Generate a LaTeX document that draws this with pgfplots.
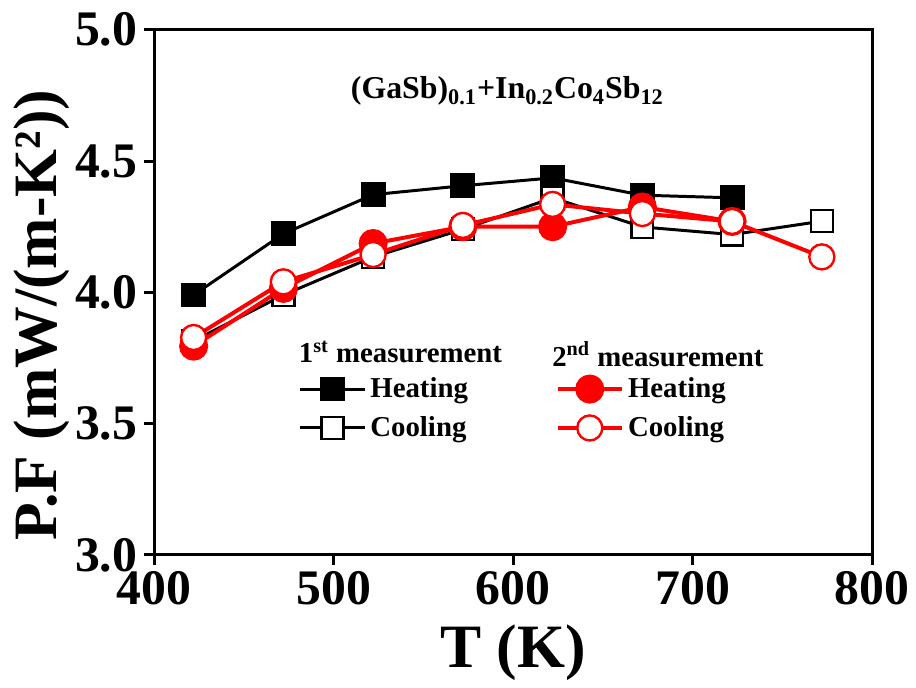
\documentclass[border=0pt]{standalone}
\usepackage{pgfplots}
\pgfplotsset{compat=1.18}
\usepackage{fontspec}
\setmainfont{Liberation Serif}
\definecolor{pfred}{RGB}{255,0,0}
\begin{document}
\begin{tikzpicture}
\begin{axis}[
  scale only axis,
  width=361pt, height=264pt,
  xmin=400, xmax=800, ymin=3.0, ymax=5.0,
  xtick={400,500,600,700,800},
  ytick={3.0,3.5,4.0,4.5,5.0},
  minor tick num=0,
  axis line style={line width=1.5pt},
  every tick/.style={black, line width=1.5pt},
  major tick length=5pt,
  tick align=outside,
  xtick pos=bottom, ytick pos=left,
  /pgf/number format/assume math mode=true,
  tick label style={font=\fontsize{25}{25}\selectfont\bfseries},
  yticklabel style={/pgf/number format/.cd, fixed, fixed zerofill, precision=1},
  xticklabel style={/pgf/number format/.cd, set thousands separator={}},
  xlabel={T (K)},
  ylabel={P.F (mW/(m-K²))},
  label style={font=\fontsize{31}{31}\selectfont\bfseries},
  xlabel style={yshift=-3pt},
  ylabel style={at={(ticklabel cs:0.456)}, yshift=-4pt},
  clip=false,
  legend columns=2,
  legend cell align=left,
  legend style={draw=none, fill=none, inner sep=0pt,
    font=\fontsize{14.5}{14.5}\selectfont\bfseries,
    at={(rel axis cs:0.201,0.346)}, anchor=north west,
    row sep=4pt,
    /tikz/every even column/.append style={column sep=42pt}},
  legend image code/.code={\draw[mark repeat=2,mark phase=2,#1] plot coordinates {(0cm,0cm) (0.57cm,0cm) (1.14cm,0cm)};},
]
% 1st measurement heating
\addplot[forget plot, black, line width=1.5pt, mark=square*, mark size=5.5pt, mark options={solid, fill=black}]
 coordinates {(422,3.99) (472,4.223) (522,4.372) (572,4.406) (622,4.436) (672,4.37) (722,4.36)};
% 1st measurement cooling
\addplot[forget plot, black, line width=1.5pt, mark=square*, mark size=5.5pt, mark options={solid, fill=white, line width=1.2pt}]
 coordinates {(772,4.271) (722,4.22) (672,4.249) (622,4.36) (572,4.24) (522,4.135) (472,3.99) (422,3.815)};
% 2nd measurement heating
\addplot[forget plot, pfred, line width=2pt, mark=*, mark size=6.3pt, mark options={solid, fill=pfred}]
 coordinates {(422,3.795) (472,4.015) (522,4.186) (572,4.25) (622,4.25) (672,4.325) (722,4.27)};
% 2nd measurement cooling
\addplot[forget plot, pfred, line width=2pt, mark=*, mark size=6.3pt, mark options={solid, fill=white, line width=1.2pt}]
 coordinates {(772,4.135) (722,4.27) (672,4.30) (622,4.335) (572,4.255) (522,4.144) (472,4.04) (422,3.828)};

\addlegendimage{black, line width=1.5pt, mark=square*, mark size=5.5pt, mark options={solid, fill=black}}
\addlegendentry{Heating}
\addlegendimage{pfred, line width=2pt, mark=*, mark size=6.3pt, mark options={solid, fill=pfred}}
\addlegendentry{Heating}
\addlegendimage{black, line width=1.5pt, mark=square*, mark size=5.5pt, mark options={solid, fill=white, line width=1.2pt}}
\addlegendentry{Cooling}
\addlegendimage{pfred, line width=2pt, mark=*, mark size=6.3pt, mark options={solid, fill=white, line width=1.2pt}}
\addlegendentry{Cooling}

\node[font=\fontsize{16}{16}\selectfont\bfseries] at (rel axis cs:0.492,0.883)
  {(GaSb)\textsubscript{0.1}+In\textsubscript{0.2}Co\textsubscript{4}Sb\textsubscript{12}};
\node[font=\fontsize{14.5}{14.5}\selectfont\bfseries, anchor=west, inner sep=0pt] at (rel axis cs:0.201,0.386)
  {1\textsuperscript{st} measurement};
\node[font=\fontsize{14.5}{14.5}\selectfont\bfseries, anchor=west, inner sep=0pt] at (rel axis cs:0.554,0.382)
  {2\textsuperscript{nd} measurement};
\path (rel axis cs:-0.2147,-0.2424) rectangle (rel axis cs:1.054,1.0568);
\end{axis}
\end{tikzpicture}
\end{document}
